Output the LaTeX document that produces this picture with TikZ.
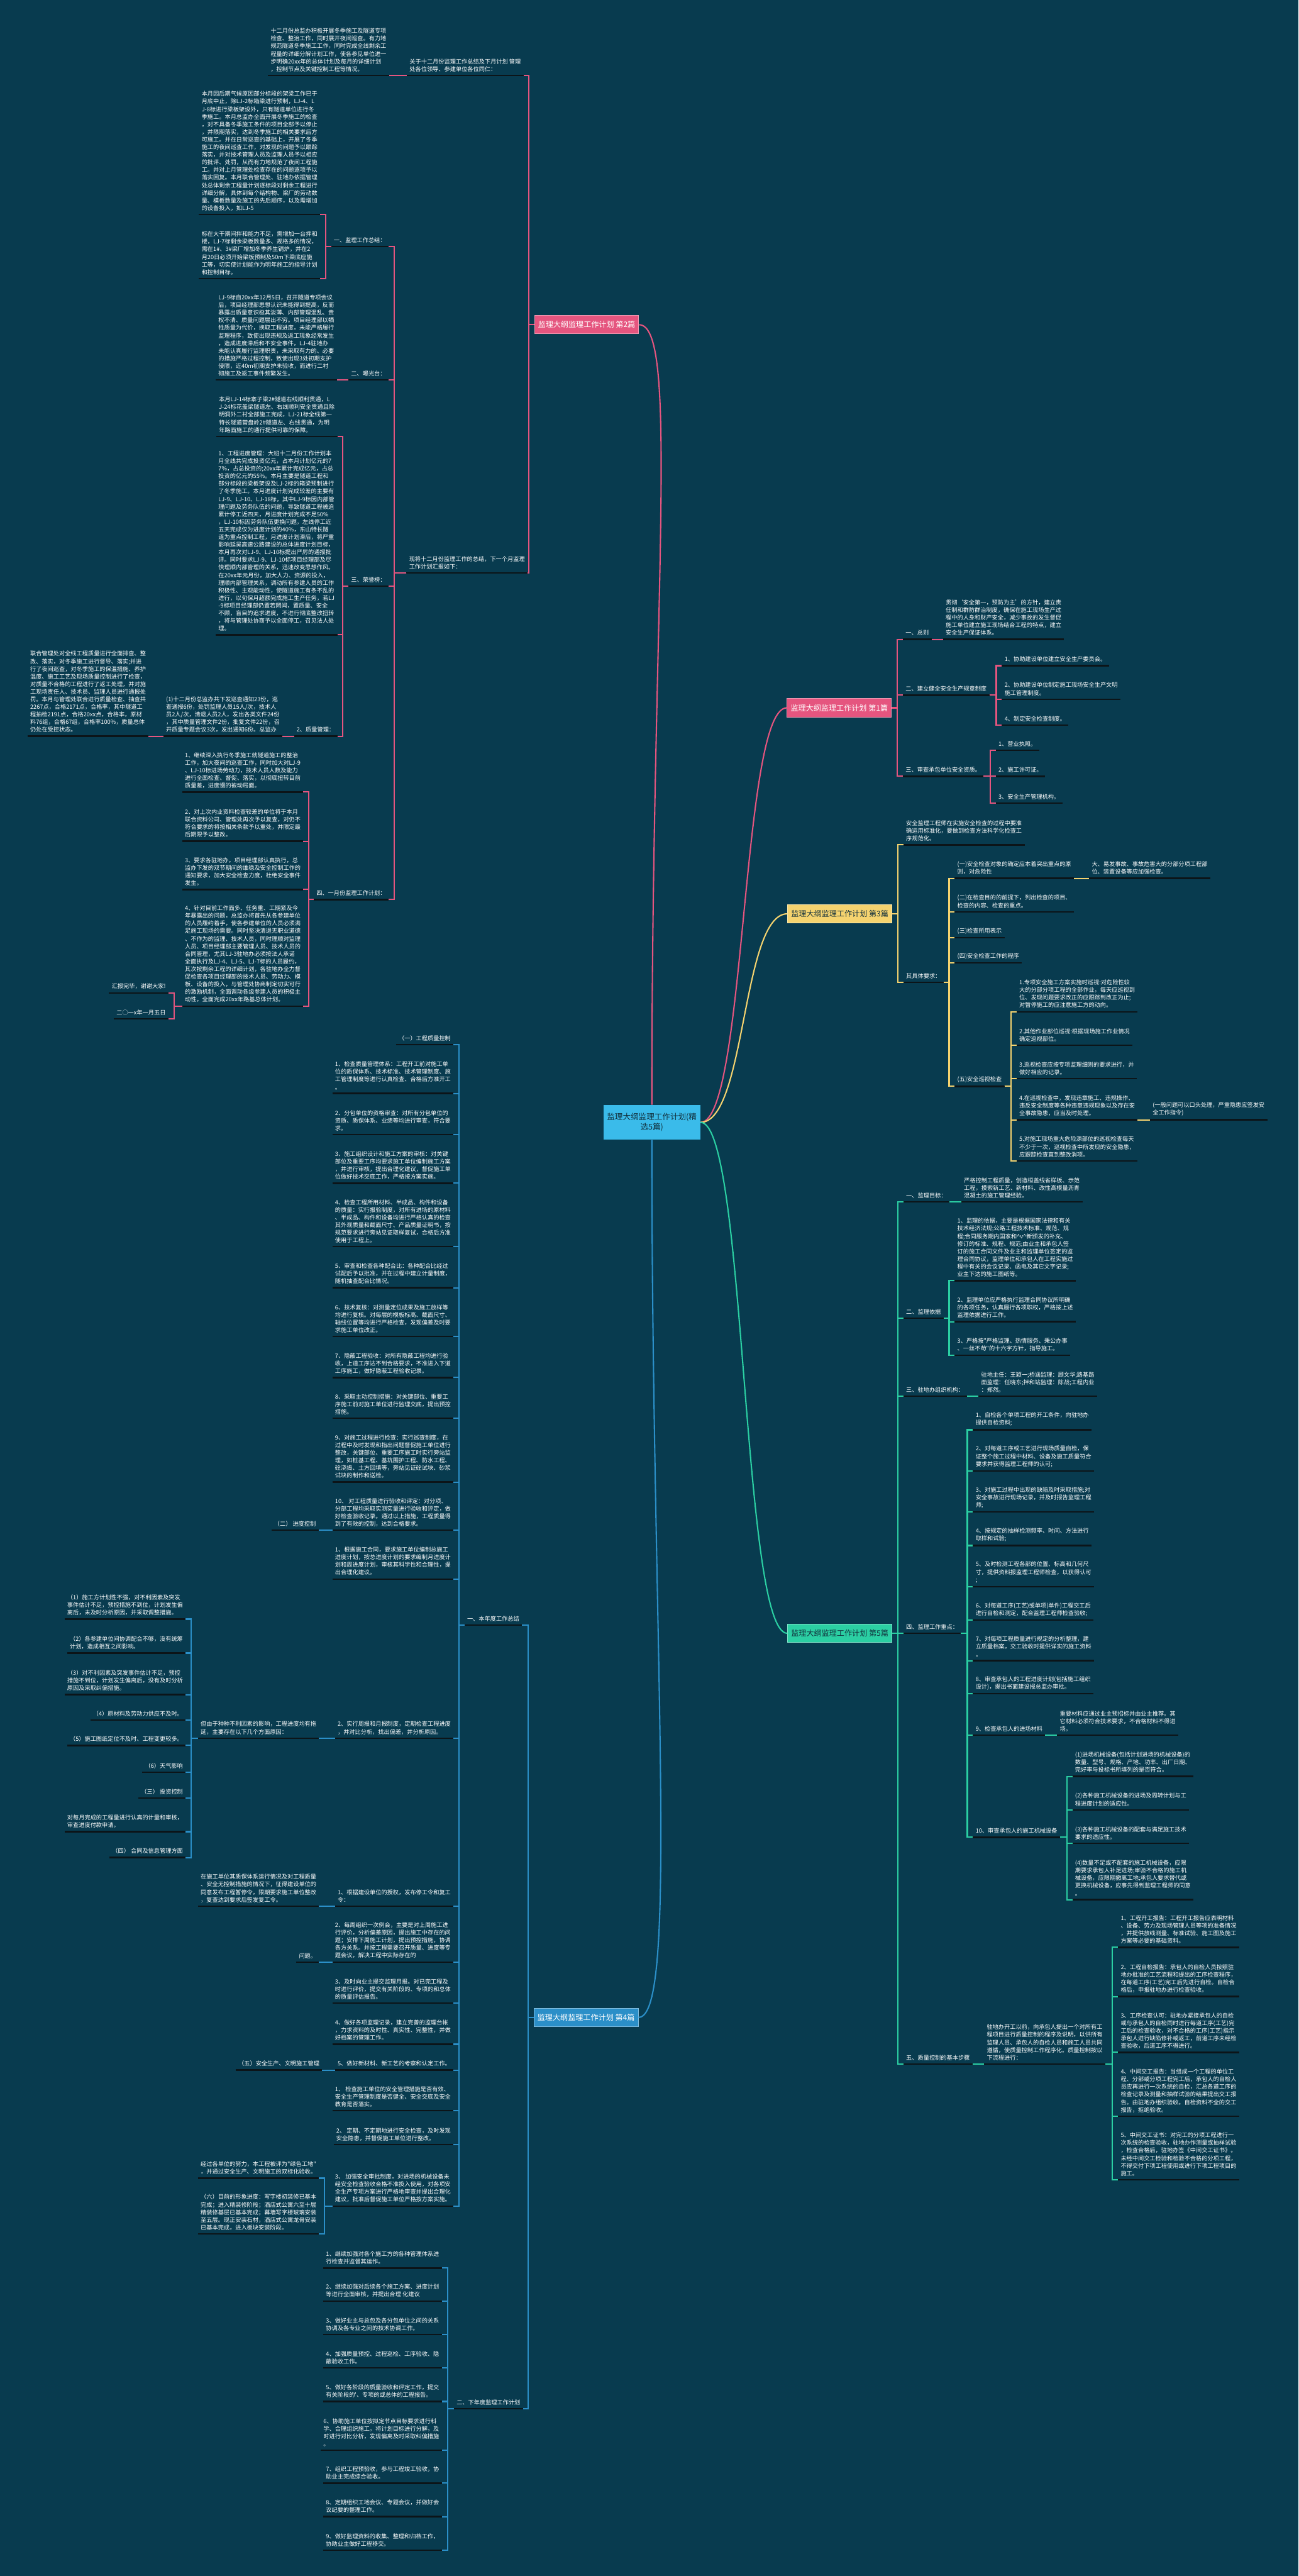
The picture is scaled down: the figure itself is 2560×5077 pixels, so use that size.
\documentclass[tikz,border=0pt]{standalone}
\usepackage{fontspec}
\usetikzlibrary{calc}
\newfontfamily\cjk{Noto Sans CJK SC}
\definecolor{bgc}{HTML}{083B4F}
\definecolor{ulc}{HTML}{0C1418}
\definecolor{pinkc}{HTML}{E5557F}
\definecolor{yelc}{HTML}{F5D36F}
\definecolor{grnc}{HTML}{2BCFA3}
\definecolor{bluc}{HTML}{2B8FC8}
\definecolor{rootc}{HTML}{3ABBEA}
\definecolor{darkc}{HTML}{12303C}

\begin{document}
\begin{tikzpicture}[x=0.5pt,y=-0.5pt,
  txt node/.style={text=white,font=\cjk\fontsize{5.7}{7.5}\selectfont,align=left,
    inner xsep=2.5pt,inner ysep=3.5pt,
    append after command={(\tikzlastnode.south west) edge[draw=ulc,line width=1.5pt] (\tikzlastnode.south east)}},
  r node/.style={txt node,anchor=south west},
  l node/.style={txt node,anchor=south east},
  main node/.style={font=\cjk\fontsize{7.5}{9}\selectfont,minimum height=18pt,inner xsep=3.5pt,line width=0.6pt},
  rl/.style={to path={-- ($(\tikztotarget |- \tikztostart)+(-5.5pt,0)$) |- (\tikztotarget)}},
  ll/.style={to path={-- ($(\tikztotarget |- \tikztostart)+(5.5pt,0)$) |- (\tikztotarget)}},
  rb/.style={to path={-- ++(5.5pt,0) |- (\tikztotarget)}},
  lb/.style={to path={-- ++(-5.5pt,0) |- (\tikztotarget)}},
  pk/.style={draw=pinkc,line width=1.3pt},
  yl/.style={draw=yelc,line width=1.3pt},
  gr/.style={draw=grnc,line width=1.3pt},
  bl/.style={draw=bluc,line width=1.3pt}]

  \useasboundingbox (0,0) rectangle (2560,5077);
  \fill[bgc] (0,0) rectangle (2560,5077);

  \node[main node,fill=rootc,text=darkc,align=center,minimum height=34pt,minimum width=95pt,
    font=\cjk\fontsize{7.8}{10}\selectfont] (root) at (1285,2212) {监理大纲监理工作计划(精\\选5篇)};

  % 第2篇
  \node[main node,fill=pinkc,draw=pinkc!60!white,text=white,anchor=west] (b2) at (1053,640) {监理大纲监理工作计划 第2篇};
  \node[l node] (b2a) at (1032,149) {关于十二月份监理工作总结及下月计划 管理\\处各位领导、参建单位各位同仁：};
  \node[l node] (b2a1) at (767,149) {十二月份总监办积极开展冬季施工及隧道专项\\检查、整治工作，同时展开夜间巡查。有力地\\规范隧道冬季施工工作，同时完成全线剩余工\\程量的详细分解计划工作，使各参见单位进一\\步明确20xx年的总体计划及每月的详细计划\\，控制节点及关键控制工程等情况。};
  \node[l node] (b2b) at (1040,1129) {现将十二月份监理工作的总结，下一个月监理\\工作计划汇报如下：};
  \node[l node] (b2b1) at (766,486) {一、监理工作总结：};
  \node[l node] (b2b1a) at (631,423) {本月因后期气候原因部分标段的架梁工作已于\\月底中止，除LJ-2标箱梁进行预制，LJ-4、L\\J-8标进行梁板架设外，只有隧道单位进行冬\\季施工。本月总监办全面开展冬季施工的检查\\，对不具备冬季施工条件的项目全部予以停止\\，并限期落实，达到冬季施工的相关要求后方\\可施工。并在日常巡查的基础上，开展了冬季\\施工的夜间巡查工作，对发现的问题予以跟踪\\落实，并对技术管理人员及监理人员予以相应\\的批评、处罚，从而有力地规范了夜间工程施\\工。并对上月管理处检查存在的问题逐项予以\\落实回复。本月联合管理处、驻地办依据管理\\处总体剩余工程量计划逐标段对剩余工程进行\\详细分解，具体到每个结构物、梁厂的劳动数\\量、模板数量及施工的先后顺序，以及需增加\\的设备投入，如LJ-5};
  \node[l node] (b2b1b) at (631,549) {标在大干期间拌和能力不足，需增加一台拌和\\楼，LJ-7标剩余梁板数量多、规格多的情况，\\需在1\#、3\#梁厂增加冬季养生锅炉，并在2\\月20日必须开始梁板预制及50m下梁底座施\\工等，切实使计划能作为明年施工的指导计划\\和控制目标。};
  \node[l node] (b2b2) at (766,749) {二、曝光台：};
  \node[l node] (b2b2a) at (664,749) {LJ-9标自20xx年12月5日，召开隧道专项会议\\后，项目经理部思想认识未能得到提高，反而\\暴露出质量意识极其淡薄、内部管理混乱、责\\权不清、质量问题层出不穷。项目经理部以牺\\牲质量为代价，换取工程进度，未能严格履行\\监理程序，致使出现违规及返工现象经常发生\\，造成进度滞后和不安全事件，LJ-4驻地办\\未能认真履行监理职责，未采取有力的、必要\\的措施严格过程控制，致使出现3处初期支护\\侵限，近40m初期支护未验收，而进行二衬\\砌施工及返工事件频繁发生。};
  \node[l node] (b2b3) at (766,1155) {三、荣誉榜：};
  \node[l node] (b2b3a) at (665,860) {本月LJ-14标寨子梁2\#隧道右线顺利贯通，L\\J-24标花盖梁隧道左、右线顺利安全贯通且除\\明洞外二衬全部施工完成，LJ-21标全线第一\\特长隧道营盘岭2\#隧道左、右线贯通，为明\\年路面施工的通行提供可靠的保障。};
  \node[l node] (b2b3b) at (665,1251) {1、工程进度管理：大班十二月份工作计划本\\月全线共完成投资亿元，占本月计划亿元的7\\7\%，占总投资的;20xx年累计完成亿元，占总\\投资的亿元的55\%。本月主要是隧道工程和\\部分标段的梁板架设及LJ-2标的箱梁预制进行\\了冬季施工。本月进度计划完成较差的主要有\\LJ-9、LJ-10、LJ-18标，其中LJ-9标因内部管\\理问题及劳务队伍的问题，导致隧道工程被迫\\累计停工近四天，月进度计划完成不足50\%\\，LJ-10标因劳务队伍更换问题，左线停工近\\五天完成仅为进度计划的40\%，东山特长隧\\道为重点控制工程，月进度计划滞后，将严重\\影响延吴高速公路建设的总体进度计划目标，\\本月再次对LJ-9、LJ-10标提出严厉的通报批\\评。同时要求LJ-9、LJ-10标项目经理部及尽\\快理顺内部管理的关系，迅速改变思想作风。\\在20xx年元月份，加大人力、资源的投入，\\理顺内部管理关系，调动所有参建人员的工作\\积极性、主观能动性，使隧道施工有条不乱的\\进行，以旬保月超额完成施工生产任务，若LJ\\-9标项目经理部仍置若罔闻，置质量、安全\\不顾，盲目的追求进度，不进行彻底整改扭转\\，将与管理处协商予以全面停工，召见法人处\\理。};
  \node[l node] (b2b3c) at (665,1451) {2、质量管理：};
  \node[l node] (b2b3c1) at (557,1451) {(1)十二月份总监办共下发巡查通知23份，巡\\查通报6份，处罚监理人员15人/次，技术人\\员2人/次，清退人员2人，发出各类文件24份\\，其中质量管理文件2份，批复文件22份，召\\开质量专题会议3次，发出通知6份。总监办};
  \node[l node] (b2b3c1a) at (293,1451) {联合管理处对全线工程质量进行全面排查、整\\改、落实，对冬季施工进行督导、落实;并进\\行了夜间巡查，对冬季施工的保温措施、养护\\温度、施工工艺及现场质量控制进行了检查，\\对质量不合格的工程进行了返工处理，并对施\\工现场责任人、技术员、监理人员进行通报处\\罚。本月与管理处联合进行质量检查、抽查共\\2267点，合格2171点，合格率，其中隧道工\\程抽检2191点，合格20xx点，合格率，原材\\料76组，合格67组，合格率100\%，质量总体\\仍处在受控状态。};
  \node[l node] (b2b4) at (766,1773) {四、一月份监理工作计划：};
  \node[l node] (b2b4a) at (598,1561) {1、继续深入执行冬季施工就隧道施工的整治\\工作，加大夜间的巡查工作，同时加大对LJ-9\\、LJ-10标进场劳动力，技术人员人数及能力\\进行全面检查、督促、落实，以彻底扭转目前\\质量差，进度慢的被动局面。};
  \node[l node] (b2b4b) at (598,1658) {2、对上次内业资料检查较差的单位将于本月\\联合资料公司、管理处再次予以复查，对仍不\\符合要求的将按相关条款予以重处，并限定最\\后期限予以整改。};
  \node[l node] (b2b4c) at (598,1753) {3、要求各驻地办，项目经理部认真执行，总\\监办下发的双节期间的维稳及安全控制工作的\\通知要求，加大安全检查力度，杜绝安全事件\\发生。};
  \node[l node] (b2b4d) at (598,1983) {4、针对目前工作面多、任务重、工期紧及今\\年暴露出的问题，总监办将首先从各参建单位\\的人员履约着手，使各参建单位的人员必须满\\足施工现场的需要。同时坚决清退无职业道德\\、不作为的监理、技术人员，同时理顺对监理\\人员、项目经理部主要管理人员、技术人员的\\合同管理，尤其LJ-3驻地办必须按法人承诺\\全面执行及LJ-4、LJ-5、LJ-7标的人员履约，\\其次按剩余工程的详细计划，各驻地办全力督\\促检查各项目经理部的技术人员、劳动力、模\\板、设备的投入，与管理处协商制定切实可行\\的激励机制，全面调动各级参建人员的积极主\\动性，全面完成20xx年路基总体计划。};
  \node[l node] (b2b4d1) at (332,1957) {汇报完毕，谢谢大家!};
  \node[l node] (b2b4d2) at (332,2008) {二○一x年一月五日};

  % 第1篇
  \node[main node,fill=pinkc,draw=pinkc!60!white,text=white,anchor=east] (b1) at (1758,1395) {监理大纲监理工作计划 第1篇};
  \node[r node] (b1a) at (1780,1260) {一、总则};
  \node[r node] (b1a1) at (1859,1260) {贯彻‘安全第一，预防为主’的方针，建立责\\任制和群防群治制度，确保在施工现场生产过\\程中的人身和财产安全，减少事故的发生督促\\施工单位建立施工现场结合工程的特点，建立\\安全生产保证体系。};
  \node[r node] (b1b) at (1780,1370) {二、建立健全安全生产规章制度};
  \node[r node] (b1b1) at (1975,1312) {1、协助建设单位建立安全生产委员会。};
  \node[r node] (b1b2) at (1975,1378) {2、协助建设单位制定施工现场安全生产文明\\施工管理制度。};
  \node[r node] (b1b3) at (1975,1429) {4、制定安全检查制度。};
  \node[r node] (b1c) at (1780,1530) {三、审查承包单位安全资质。};
  \node[r node] (b1c1) at (1963,1479) {1、营业执照。};
  \node[r node] (b1c2) at (1963,1530) {2、施工许可证。};
  \node[r node] (b1c3) at (1963,1583) {3、安全生产管理机构。};

  % 第3篇
  \node[main node,fill=yelc,draw=yelc!60!white,text=darkc,anchor=east] (b3) at (1759,1801) {监理大纲监理工作计划 第3篇};
  \node[r node] (b3a) at (1781,1665) {安全监理工程师在实施安全检查的过程中要准\\确运用标准化，要做到检查方法科学化检查工\\序规范化。};
  \node[r node] (b3b) at (1781,1936) {其具体要求：};
  \node[r node] (b3b1) at (1882,1731) {(一)安全检查对象的确定应本着突出重点的原\\则，对危险性};
  \node[r node] (b3b1a) at (2147,1731) {大、易发事故、事故危害大的分部分项工程部\\位、装置设备等应加强检查。};
  \node[r node] (b3b2) at (1882,1797) {(二)在检查目的的前提下，列出检查的项目、\\检查的内容、检查的重点。};
  \node[r node] (b3b3) at (1882,1848) {(三)检查所用表示};
  \node[r node] (b3b4) at (1882,1898) {(四)安全检查工作的程序};
  \node[r node] (b3b5) at (1882,2141) {(五)安全巡视检查};
  \node[r node] (b3b5a) at (2004,1994) {1.专项安全施工方案实施时巡视:对危险性较\\大的分部分项工程的全部作业，每天应巡视到\\位、发现问题要求改正的应跟踪到改正为止;\\对暂停施工的应注意施工方的动向。};
  \node[r node] (b3b5b) at (2004,2060) {2.其他作业部位巡视:根据现场施工作业情况\\确定巡视部位。};
  \node[r node] (b3b5c) at (2004,2126) {3.巡视检查应按专项监理细则的要求进行，并\\做好相应的记录。};
  \node[r node] (b3b5d) at (2004,2207) {4.在巡视检查中，发现违章施工、违规操作、\\违反安全制度等各种违章违规现象以及存在安\\全事故隐患，应当及时处理。};
  \node[r node] (b3b5d1) at (2267,2207) {(一般问题可以口头处理，严重隐患应签发安\\全工作指令)};
  \node[r node] (b3b5e) at (2004,2288) {5.对施工现场重大危险源部位的巡视检查每天\\不少于一次，巡视检查中所发现的安全隐患，\\应跟踪检查直到整改消项。};

  % 第5篇
  \node[main node,fill=grnc,draw=grnc!60!white,text=darkc,anchor=east] (b5) at (1759,3219) {监理大纲监理工作计划 第5篇};
  \node[r node] (b5a) at (1781,2369) {一、监理目标：};
  \node[r node] (b5a1) at (1895,2369) {严格控制工程质量，创造桓盖线省样板、示范\\工程，摸索新工艺、新材料、改性高模量沥青\\混凝土的施工管理经验。};
  \node[r node] (b5b) at (1781,2598) {二、监理依据};
  \node[r node] (b5b1) at (1882,2524) {1、监理的依据，主要是根据国家法律和有关\\技术经济法规;公路工程技术标准、规范、规\\程;合同服务期内国家和\textasciicircum v\textasciicircum 新颁发的补充、\\修订的标准、规程、规范;由业主和承包人签\\订的施工合同文件及业主和监理单位签定的监\\理合同协议，监理单位和承包人在工程实施过\\程中有关的会议记录、函电及其它文字记录;\\业主下达的施工图纸等。};
  \node[r node] (b5b2) at (1882,2605) {2、监理单位应严格执行监理合同协议所明确\\的各项任务，认真履行各项职权，严格按上述\\监理依据进行工作。};
  \node[r node] (b5b3) at (1882,2671) {3、严格按"严格监理、热情服务、秉公办事\\、一丝不苟"的十六字方针，指导施工。};
  \node[r node] (b5c) at (1781,2752) {三、驻地办组织机构：};
  \node[r node] (b5c1) at (1929,2752) {驻地主任：王颖一;桥涵监理：顾文华;路基路\\面监理：任晓东;拌和站监理：陈战;工程内业\\：郑然。};
  \node[r node] (b5d) at (1781,3219) {四、监理工作重点：};
  \node[r node] (b5d1) at (1918,2818) {1、自检各个单项工程的开工条件，向驻地办\\提供自检资料;};
  \node[r node] (b5d2) at (1918,2899) {2、对每道工序或工艺进行现场质量自检，保\\证整个施工过程中材料、设备及施工质量符合\\要求并获得监理工程师的认可;};
  \node[r node] (b5d3) at (1918,2980) {3、对施工过程中出现的缺陷及时采取措施;对\\安全事故进行现场记录，并及时报告监理工程\\师;};
  \node[r node] (b5d4) at (1918,3046) {4、按规定的抽样检测频率、时间、方法进行\\取样和试验;};
  \node[r node] (b5d5) at (1918,3127) {5、及时检测工程各部的位置、标高和几何尺\\寸，提供资料报监理工程师检查，以获得认可\\;};
  \node[r node] (b5d6) at (1918,3193) {6、对每道工序(工艺)或单项(单件)工程交工后\\进行自检和测定，配合监理工程师检查验收;};
  \node[r node] (b5d7) at (1918,3273) {7、对每项工程质量进行规定的分析整理，建\\立质量档案，交工验收时提供详实的施工资料\\。};
  \node[r node] (b5d8) at (1918,3338) {8、审查承包人的工程进度计划(包括施工组织\\设计)，提出书面建设报总监办审批。};
  \node[r node] (b5d9) at (1918,3420) {9、检查承包人的进场材料};
  \node[r node] (b5d9a) at (2084,3420) {重要材料应通过业主预招标并由业主推荐。其\\它材料必须符合技术要求，不合格材料不得进\\场。};
  \node[r node] (b5d10) at (1918,3621) {10、审查承包人的施工机械设备};
  \node[r node] (b5d10a) at (2114,3501) {(1)进场机械设备(包括计划进场的机械设备)的\\数量、型号、规格、产地、功率、出厂日期、\\完好率与投标书所填列的是否符合。};
  \node[r node] (b5d10b) at (2114,3567) {(2)各种施工机械设备的进场及周转计划与工\\程进度计划的适应性。};
  \node[r node] (b5d10c) at (2114,3633) {(3)各种施工机械设备的配套与满足施工技术\\要求的适应性。};
  \node[r node] (b5d10d) at (2114,3744) {(4)数量不足或不配套的施工机械设备，应限\\期要求承包人补足进场;审验不合格的施工机\\械设备，应限期撤离工地;承包人要求替代或\\更换机械设备，应事先得到监理工程师的同意\\。};
  \node[r node] (b5e) at (1781,4068) {五、质量控制的基本步骤};
  \node[r node] (b5e1) at (1940,4068) {驻地办开工以前，向承包人提出一个对所有工\\程项目进行质量控制的程序及说明，以供所有\\监理人员、承包人的自检人员和施工人员共同\\遵循，使质量控制工作程序化。质量控制按以\\下流程进行：};
  \node[r node] (b5e1a) at (2204,3838) {1、工程开工报告：工程开工报告应表明材料\\、设备、劳力及现场管理人员等项的准备情况\\，并提供放线测量、标准试验、施工图及施工\\方案等必要的基础资料。};
  \node[r node] (b5e1b) at (2204,3935) {2、工程自检报告：承包人的自检人员按照驻\\地办批准的工艺流程和提出的工序检查程序，\\在每道工序(工艺)完工后先进行自检。自检合\\格后，申报驻地办进行检查验收。};
  \node[r node] (b5e1c) at (2204,4045) {3、工序检查认可：驻地办紧接承包人的自检\\或与承包人的自检同时进行每道工序(工艺)完\\工后的检查验收，对不合格的工序(工艺)指示\\承包人进行缺陷修补或返工，前道工序未经检\\查验收，后道工序不得进行。};
  \node[r node] (b5e1d) at (2204,4171) {4、中间交工报告：当组成一个工程的单位工\\程、分部或分项工程完工后，承包人的自检人\\员应再进行一次系统的自检，汇总各道工序的\\检查记录及测量和抽样试验的结果提出交工报\\告。由驻地办组织验收。自检资料不全的交工\\报告，拒绝验收。};
  \node[r node] (b5e1e) at (2204,4296) {5、中间交工证书：对完工的分项工程进行一\\次系统的检查验收，驻地办作测量或抽样试验\\，检查合格后，驻地办签《中间交工证书》。\\未经中间交工检验和检验不合格的分项工程，\\不得交付下项工程使用或进行下项工程项目的\\施工。};

  % 第4篇
  \node[main node,fill=bluc,draw=bluc!60!white,text=white,anchor=west] (b4) at (1052,3976) {监理大纲监理工作计划 第4篇};
  \node[l node] (b4a) at (1029,3203) {一、本年度工作总结};
  \node[l node] (b4a1) at (894,2059) {（一）工程质量控制};
  \node[l node] (b4a2) at (894,2155) {1、检查质量管理体系：工程开工前对施工单\\位的质保体系、技术标准、技术管理制度、施\\工管理制度等进行认真检查、合格后方准开工\\。};
  \node[l node] (b4a3) at (894,2236) {2、分包单位的资格审查：对所有分包单位的\\资质、质保体系、业绩等均进行审查，符合要\\求。};
  \node[l node] (b4a4) at (894,2332) {3、施工组织设计和施工方案的审核：对关键\\部位及重要工序均要求施工单位编制施工方案\\，并进行审核，提出合理化建议，督促施工单\\位做好技术交底工作，严格按方案实施。};
  \node[l node] (b4a5) at (894,2457) {4、检查工程所用材料、半成品、构件和设备\\的质量：实行报验制度，对所有进场的原材料\\、半成品、构件和设备均进行严格认真的检查\\其外观质量和截面尺寸、产品质量证明书，按\\规范要求进行旁站见证取样复试，合格后方准\\使用于工程上。};
  \node[l node] (b4a6) at (894,2538) {5、审查和检查各种配合比：各种配合比经过\\试配后予以批准，并在过程中建立计量制度，\\随机抽查配合比情况。};
  \node[l node] (b4a7) at (894,2634) {6、技术复核：对测量定位成果及施工放样等\\均进行复核。对每层的模板标高、截面尺寸、\\轴线位置等均进行严格检查，发现偏差及时要\\求施工单位改正。};
  \node[l node] (b4a8) at (894,2715) {7、隐蔽工程验收：对所有隐蔽工程均进行验\\收，上道工序达不到合格要求，不准进入下道\\工序施工，做好隐蔽工程验收记录。};
  \node[l node] (b4a9) at (894,2795) {8、采取主动控制措施：对关键部位、重要工\\序施工前对施工单位进行监理交底，提出预控\\措施。};
  \node[l node] (b4a10) at (894,2921) {9、对施工过程进行检查：实行巡查制度，在\\过程中及时发现和指出问题督促施工单位进行\\整改，关键部位、重要工序施工时实行旁站监\\理，如桩基工程、基坑围护工程、防水工程、\\砼浇捣、土方回填等，旁站见证砼试块、砂浆\\试块的制作和送检。};
  \node[l node] (b4a11) at (894,3016) {10、 对工程质量进行验收和评定：对分项、\\分部工程均采取实测实量进行验收和评定，做\\好检查验收记录。通过以上措施，工程质量得\\到了有效的控制，达到合格要求。};
  \node[l node] (b4a11a) at (628,3016) {（二） 进度控制};
  \node[l node] (b4a12) at (894,3112) {1、根据施工合同，要求施工单位编制总施工\\进度计划，按总进度计划的要求编制月进度计\\划和周进度计划，审核其科学性和合理性，提\\出合理化建议。};
  \node[l node] (b4a13) at (894,3426) {2、实行周报和月报制度，定期检查工程进度\\，并对比分析，找出偏差，并分析原因。};
  \node[l node] (b4a13a) at (629,3426) {但由于种种不利因素的影响，工程进度均有拖\\延，主要存在以下几个方面原因：};
  \node[l node] (b4a13a1) at (366,3191) {（1）施工方计划性不强，对不利因素及突发\\事件估计不足，预控措施不到位，计划发生偏\\离后，未及时分析原因，并采取调整措施。};
  \node[l node] (b4a13a2) at (366,3258) {（2）各参建单位间协调配合不够，没有统筹\\计划，造成相互之间影响。};
  \node[l node] (b4a13a3) at (366,3340) {（3）对不利因素及突发事件估计不足，预控\\措施不到位，计划发生偏离后，没有及时分析\\原因及采取纠偏措施。};
  \node[l node] (b4a13a4) at (366,3390) {（4）原材料及劳动力供应不及时。};
  \node[l node] (b4a13a5) at (366,3440) {（5）施工图纸定位不及时、工程变更较多。};
  \node[l node] (b4a13a6) at (366,3493) {（6）天气影响};
  \node[l node] (b4a13a7) at (366,3544) {（三） 投资控制};
  \node[l node] (b4a13a8) at (366,3610) {对每月完成的工程量进行认真的计量和审核，\\审查进度付款申请。};
  \node[l node] (b4a13a9) at (366,3661) {（四） 合同及信息管理方面};
  \node[l node] (b4a14) at (894,3757) {1、根据建设单位的授权，发布停工令和复工\\令：};
  \node[l node] (b4a14a) at (629,3757) {在施工单位其质保体系运行情况及对工程质量\\、安全无控制措施的情况下，征得建设单位的\\同意发布工程暂停令，限期要求施工单位整改\\，复查达到要求后签发复工令。};
  \node[l node] (b4a15) at (894,3867) {2、每周组织一次例会，主要是对上周施工进\\行评价，分析偏差原因，提出施工中存在的问\\题；安排下周施工计划，提出预控措施，协调\\各方关系。并按工程需要召开质量、进度等专\\题会议，解决工程中实际存在的};
  \node[l node] (b4a15a) at (629,3867) {问题。};
  \node[l node] (b4a16) at (894,3948) {3、及时向业主提交监理月报。对已完工程及\\时进行评价，提交有关阶段的、专项的和总体\\的质量评估报告。};
  \node[l node] (b4a17) at (894,4029) {4、做好各项监理记录，建立完善的监理台帐\\，力求资料的及时性、真实性、完整性，并做\\好档案的管理工作。};
  \node[l node] (b4a18) at (894,4080) {5、做好新材料、新工艺的考察和认定工作。};
  \node[l node] (b4a18a) at (635,4080) {（五）安全生产、文明施工管理};
  \node[l node] (b4a19) at (894,4160) {1、 检查施工单位的安全管理措施是否有效、\\安全生产管理制度是否健全、安全交底及安全\\教育是否落实。};
  \node[l node] (b4a20) at (894,4227) {2、 定期、不定期地进行安全检查，及时发现\\安全隐患，并督促施工单位进行整改。};
  \node[l node] (b4a21) at (894,4348) {3、 加强安全审批制度，对进场的机械设备未\\经安全检查验收合格不准投入使用，对各项安\\全生产专项方案进行严格地审查并提出合理化\\建议，批准后督促施工单位严格按方案实施。};
  \node[l node] (b4a21a) at (629,4293) {经过各单位的努力，本工程被评为"绿色工地"\\，并通过安全生产、文明施工的双标化验收。};
  \node[l node] (b4a21b) at (629,4403) {（六）目前的形象进度：写字楼初装修已基本\\完成；进入精装修阶段；酒店式公寓六至十层\\精装修基层已基本完成；幕墙写字楼玻璃安装\\至五层。现正安装石材，酒店式公寓龙骨安装\\已基本完成，进入板块安装阶段。};
  \node[l node] (b4b) at (1031,4747) {二、下年度监理工作计划};
  \node[l node] (b4b1) at (871,4470) {1、继续加强对各个施工方的各种管理体系进\\行检查并监督其运作。};
  \node[l node] (b4b2) at (871,4535) {2、继续加强对后续各个施工方案、进度计划\\等进行全面审核，并提出合理 化建议};
  \node[l node] (b4b3) at (871,4601) {3、做好业主与总包及各分包单位之间的关系\\协调及各专业之间的技术协调工作。};
  \node[l node] (b4b4) at (871,4667) {4、加强质量预控、过程巡检、工序验收、隐\\蔽验收工作。};
  \node[l node] (b4b5) at (871,4733) {5、做好各阶段的质量验收和评定工作，提交\\有关阶段的'、专项的或总体的工程报告。};
  \node[l node] (b4b6) at (871,4829) {6、协助施工单位按拟定节点目标要求进行科\\学、合理组织施工，将计划目标进行分解，及\\时进行对比分析，发现偏离及时采取纠偏措施\\。};
  \node[l node] (b4b7) at (871,4894) {7、组织工程预验收，参与工程竣工验收，协\\助业主完成综合验收。};
  \node[l node] (b4b8) at (871,4960) {8、定期组织工地会议、专题会议，并做好会\\议纪要的整理工作。};
  \node[l node] (b4b9) at (871,5026) {9、做好监理资料的收集、整理和归档工作，\\协助业主做好工程移交。};

  % links from the root
  \draw[pk] (root.north) .. controls +(0,-1000) and +(80,0) .. (b2.east);
  \draw[pk] (root.east) .. controls +(90,0) and +(-90,0) .. (b1.west);
  \draw[yl] (root.east) .. controls +(90,0) and +(-90,0) .. (b3.west);
  \draw[gr] (root.east) .. controls +(90,0) and +(-90,0) .. (b5.west);
  \draw[bl] (root.south) .. controls +(0,1000) and +(80,0) .. (b4.east);

  \path[pk]
    (b2.west) edge[lb] (b2a.south east) edge[lb] (b2b.south east)
    (b2a.south west) edge[ll] (b2a1.south east)
    (b2b.south west) edge[ll] (b2b1.south east) edge[ll] (b2b2.south east)
      edge[ll] (b2b3.south east) edge[ll] (b2b4.south east)
    (b2b1.south west) edge[ll] (b2b1a.south east) edge[ll] (b2b1b.south east)
    (b2b2.south west) edge[ll] (b2b2a.south east)
    (b2b3.south west) edge[ll] (b2b3a.south east) edge[ll] (b2b3b.south east) edge[ll] (b2b3c.south east)
    (b2b3c.south west) edge[ll] (b2b3c1.south east)
    (b2b3c1.south west) edge[ll] (b2b3c1a.south east)
    (b2b4.south west) edge[ll] (b2b4a.south east) edge[ll] (b2b4b.south east)
      edge[ll] (b2b4c.south east) edge[ll] (b2b4d.south east)
    (b2b4d.south west) edge[ll] (b2b4d1.south east) edge[ll] (b2b4d2.south east);

  \path[pk]
    (b1.east) edge[rb] (b1a.south west) edge[rb] (b1b.south west) edge[rb] (b1c.south west)
    (b1a.south east) edge[rl] (b1a1.south west)
    (b1b.south east) edge[rl] (b1b1.south west) edge[rl] (b1b2.south west) edge[rl] (b1b3.south west)
    (b1c.south east) edge[rl] (b1c1.south west) edge[rl] (b1c2.south west) edge[rl] (b1c3.south west);

  \path[yl]
    (b3.east) edge[rb] (b3a.south west) edge[rb] (b3b.south west)
    (b3b.south east) edge[rl] (b3b1.south west) edge[rl] (b3b2.south west) edge[rl] (b3b3.south west)
      edge[rl] (b3b4.south west) edge[rl] (b3b5.south west)
    (b3b1.south east) edge[rl] (b3b1a.south west)
    (b3b5.south east) edge[rl] (b3b5a.south west) edge[rl] (b3b5b.south west) edge[rl] (b3b5c.south west)
      edge[rl] (b3b5d.south west) edge[rl] (b3b5e.south west)
    (b3b5d.south east) edge[rl] (b3b5d1.south west);

  \path[gr]
    (b5.east) edge[rb] (b5a.south west) edge[rb] (b5b.south west) edge[rb] (b5c.south west)
      edge[rb] (b5d.south west) edge[rb] (b5e.south west)
    (b5a.south east) edge[rl] (b5a1.south west)
    (b5b.south east) edge[rl] (b5b1.south west) edge[rl] (b5b2.south west) edge[rl] (b5b3.south west)
    (b5c.south east) edge[rl] (b5c1.south west)
    (b5d.south east) edge[rl] (b5d1.south west) edge[rl] (b5d2.south west) edge[rl] (b5d3.south west)
      edge[rl] (b5d4.south west) edge[rl] (b5d5.south west) edge[rl] (b5d6.south west)
      edge[rl] (b5d7.south west) edge[rl] (b5d8.south west) edge[rl] (b5d9.south west)
      edge[rl] (b5d10.south west)
    (b5d9.south east) edge[rl] (b5d9a.south west)
    (b5d10.south east) edge[rl] (b5d10a.south west) edge[rl] (b5d10b.south west)
      edge[rl] (b5d10c.south west) edge[rl] (b5d10d.south west)
    (b5e.south east) edge[rl] (b5e1.south west)
    (b5e1.south east) edge[rl] (b5e1a.south west) edge[rl] (b5e1b.south west) edge[rl] (b5e1c.south west)
      edge[rl] (b5e1d.south west) edge[rl] (b5e1e.south west);

  \path[bl]
    (b4.west) edge[lb] (b4a.south east) edge[lb] (b4b.south east)
    (b4a.south west) edge[ll] (b4a1.south east) edge[ll] (b4a2.south east) edge[ll] (b4a3.south east)
      edge[ll] (b4a4.south east) edge[ll] (b4a5.south east) edge[ll] (b4a6.south east)
      edge[ll] (b4a7.south east) edge[ll] (b4a8.south east) edge[ll] (b4a9.south east)
      edge[ll] (b4a10.south east) edge[ll] (b4a11.south east) edge[ll] (b4a12.south east)
      edge[ll] (b4a13.south east) edge[ll] (b4a14.south east) edge[ll] (b4a15.south east)
      edge[ll] (b4a16.south east) edge[ll] (b4a17.south east) edge[ll] (b4a18.south east)
      edge[ll] (b4a19.south east) edge[ll] (b4a20.south east) edge[ll] (b4a21.south east)
    (b4a11.south west) edge[ll] (b4a11a.south east)
    (b4a13.south west) edge[ll] (b4a13a.south east)
    (b4a13a.south west) edge[ll] (b4a13a1.south east) edge[ll] (b4a13a2.south east)
      edge[ll] (b4a13a3.south east) edge[ll] (b4a13a4.south east) edge[ll] (b4a13a5.south east)
      edge[ll] (b4a13a6.south east) edge[ll] (b4a13a7.south east) edge[ll] (b4a13a8.south east)
      edge[ll] (b4a13a9.south east)
    (b4a14.south west) edge[ll] (b4a14a.south east)
    (b4a15.south west) edge[ll] (b4a15a.south east)
    (b4a18.south west) edge[ll] (b4a18a.south east)
    (b4a21.south west) edge[ll] (b4a21a.south east) edge[ll] (b4a21b.south east)
    (b4b.south west) edge[ll] (b4b1.south east) edge[ll] (b4b2.south east) edge[ll] (b4b3.south east)
      edge[ll] (b4b4.south east) edge[ll] (b4b5.south east) edge[ll] (b4b6.south east)
      edge[ll] (b4b7.south east) edge[ll] (b4b8.south east) edge[ll] (b4b9.south east);
\end{tikzpicture}
\end{document}
